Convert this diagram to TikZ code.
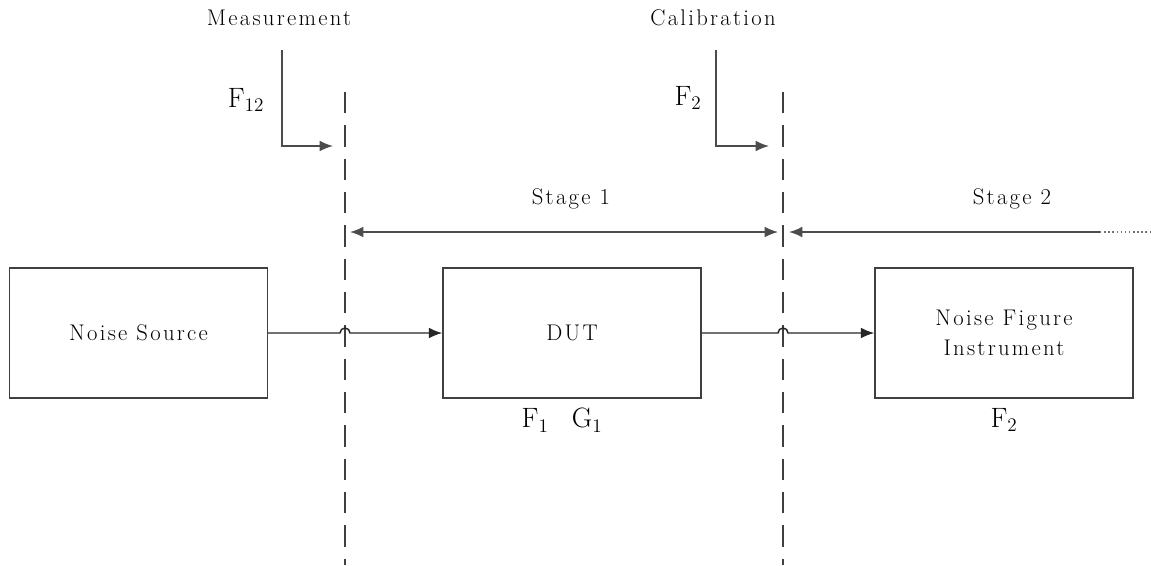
\documentclass[tikz,border=0pt]{standalone}
\usepackage{fontspec}
\setmainfont{Latin Modern Roman}[LetterSpace=10]
\usetikzlibrary{arrows.meta, positioning}

\begin{document}
\begin{tikzpicture}[x=0.75pt, y=-0.75pt,
			>={Latex[length=10pt, width=8pt]},   % arrow tips
			block/.style={draw=black!75, line width=1.1pt, minimum width=193.5pt, minimum height=97.5pt, align=center},
			sig/.style={line width=1.1pt, black!85},
			cut/.style={line width=1.1pt, black!75, dash pattern=on 16pt off 9pt},
			lbl/.style={},
			flbl/.style={font=\fontsize{21}{25}\selectfont, inner sep=1pt},
			font=\fontsize{17}{23}\selectfont]
			% Rahmen
			\useasboundingbox (0,0) rectangle (1151,565);
			% Bloecke
			\node[block] (ns) at (138.5,333) {Noise Source};
			\node[block] (dut) at (572,333) {DUT};
			\node[block] (nfi) at (1004,333) {Noise Figure\\ Instrument};
			\node[flbl, below=6pt of dut.south, xshift=-7.5pt] (fg) {$\mathrm{F}_1$\;\;\;$\mathrm{G}_1$};
			\node[flbl, below=6pt of nfi.south] (ftwo) {$\mathrm{F}_2$};
			% Schnittebenen
			\coordinate (m1) at (345,92);
			\coordinate (m2) at (345,565);
			\coordinate (c1) at (783,92);
			\coordinate (c2) at (783,565);
			\draw[cut] (m1) -- (m2);
			\draw[cut] (c1) -- (c2);
			% Signalweg mit Bruecken
			\coordinate (h1) at (345,333);
			\coordinate (h2) at (783,333);
			\draw[sig, ->] (ns.east) -- ([shift={(-5,0)}]h1) arc[start angle=180, end angle=0, radius=3.75pt] -- (dut.west);
			\draw[sig, ->] (dut.east) -- ([shift={(-5,0)}]h2) arc[start angle=180, end angle=0, radius=3.75pt] -- (nfi.west);
			% Stufen
			\coordinate (s1a) at (350,232);
			\coordinate (s1b) at (778,232);
			\coordinate (s2a) at (789,232);
			\coordinate (s2b) at (1100,232);
			\coordinate (s2c) at (1151,232);
			\draw[sig, black!70, <->] (s1a) -- (s1b);
			\draw[sig, black!70, <-] (s2a) -- (s2b);
			\draw[sig, black!55, dotted] (s2b) -- (s2c);
			\node[lbl] (st1) at (571,199) {Stage 1};
			\node[lbl] (st2) at (1012,199) {Stage 2};
			% Messung und Kalibrierung
			\node[lbl] (meas) at (279,18) {Measurement};
			\node[lbl] (cal) at (713,18) {Calibration};
			\coordinate (ma) at (282,50);
			\coordinate (mb) at (333,146);
			\coordinate (ca) at (716,50);
			\coordinate (cb) at (769,146);
			\draw[sig, black!70, ->] (ma) |- (mb);
			\draw[sig, black!70, ->] (ca) |- (cb);
			\node[flbl] (f12) at (246,100) {$\mathrm{F}_{12}$};
			\node[flbl] (f2) at (688,98) {$\mathrm{F}_2$};
		\end{tikzpicture}
\end{document}
